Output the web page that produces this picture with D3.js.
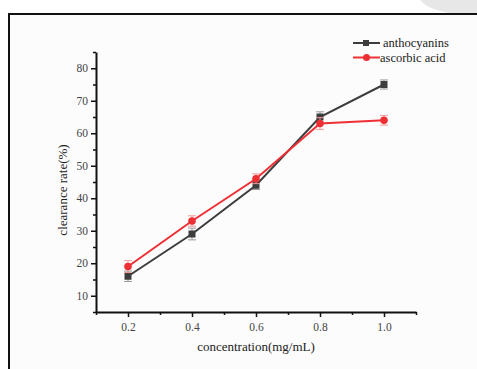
<!DOCTYPE html>
<html>
<head>
<meta charset="utf-8">
<script src="https://cdn.jsdelivr.net/npm/d3@7"></script>
<style>
  body { margin: 0; background: #fff; }
  svg { display: block; }
</style>
</head>
<body>
<svg id="chart"></svg>
<script>
const concentrations = [0.2, 0.4, 0.6, 0.8, 1.0];
const anthocyanins = [16, 29, 44, 65, 75];
const anthocyaninsErr = [1.6, 1.8, 1.3, 1.6, 1.4];
const ascorbic = [19, 33, 46, 63, 64];
const ascorbicErr = [1.8, 1.6, 1.5, 1.8, 1.5];
const xTicks = [0.2, 0.4, 0.6, 0.8, 1.0];
const yTicks = [10, 20, 30, 40, 50, 60, 70, 80];

const width = 477, height = 369;
const margin = {top: 52, right: 61, bottom: 57, left: 96};
const innerW = width - margin.left - margin.right;
const innerH = height - margin.top - margin.bottom;
const font = '"Liberation Serif", "Times New Roman", serif';

const svg = d3.select('#chart').attr('width', width).attr('height', height);

// page background + frame
svg.append('rect').attr('width', width).attr('height', height).attr('fill', '#fcfcfc');
svg.append('rect').attr('width', width).attr('height', 13).attr('fill', '#fff');
svg.append('ellipse').attr('cx', 470).attr('cy', -6).attr('rx', 52).attr('ry', 21).attr('fill', '#e7e7e7');
svg.append('rect').attr('x', 0).attr('y', 14).attr('width', 9).attr('height', height).attr('fill', '#fff');
svg.append('line').attr('x1', 9).attr('x2', width).attr('y1', 14).attr('y2', 14)
    .attr('stroke', '#111').attr('stroke-width', 2);
svg.append('line').attr('x1', 9).attr('x2', 9).attr('y1', 13).attr('y2', height)
    .attr('stroke', '#111').attr('stroke-width', 2);

const chart = svg.append('g').attr('transform', `translate(${margin.left}, ${margin.top})`);

const xscale = d3.scaleLinear().domain([0.1, 1.1]).range([0, innerW]);
const yscale = d3.scaleLinear().domain([5, 85]).range([innerH, 0]);

// minor ticks
const xMinor = d3.range(0.1, 1.101, 0.1).filter(v => !xTicks.some(t => Math.abs(t - v) < 1e-6));
const yMinor = d3.range(5, 86, 5).filter(v => v % 10 !== 0);

chart.append('g')
    .attr('transform', `translate(0, ${innerH})`)
    .call(d3.axisBottom(xscale).tickValues(xMinor).tickSize(3).tickFormat(''))
    .call(g => g.select('.domain').remove())
    .selectAll('line').attr('stroke', '#111').attr('stroke-width', 1.5);

chart.append('g')
    .call(d3.axisLeft(yscale).tickValues(yMinor).tickSize(3).tickFormat(''))
    .call(g => g.select('.domain').remove())
    .selectAll('line').attr('stroke', '#111').attr('stroke-width', 1.5);

const xaxis = chart.append('g')
    .attr('transform', `translate(0, ${innerH})`)
    .call(d3.axisBottom(xscale).tickValues(xTicks).tickSize(5).tickSizeOuter(0).tickPadding(6)
        .tickFormat(d3.format('.1f')));
const yaxis = chart.append('g')
    .call(d3.axisLeft(yscale).tickValues(yTicks).tickSize(5).tickSizeOuter(0).tickPadding(3));

[xaxis, yaxis].forEach(g => {
    g.attr('font-family', font);
    g.select('.domain').attr('stroke', '#111').attr('stroke-width', 2);
    g.selectAll('.tick line').attr('stroke', '#111').attr('stroke-width', 1.5);
    g.selectAll('.tick text').attr('font-family', font).attr('font-size', 11.5).attr('fill', '#444');
});

// axis labels
svg.append('text')
    .attr('x', margin.left + xscale(0.6))
    .attr('y', 351)
    .attr('text-anchor', 'middle')
    .attr('font-family', font).attr('font-size', 13).attr('fill', '#222')
    .text('concentration(mg/mL)');

svg.append('text')
    .attr('transform', 'rotate(-90)')
    .attr('x', -190)
    .attr('y', 67)
    .attr('text-anchor', 'middle')
    .attr('font-family', font).attr('font-size', 13).attr('fill', '#222')
    .text('clearance rate(%)');

// series
const series = [
    {name: 'anthocyanins', values: anthocyanins, err: anthocyaninsErr, color: '#3d3d3d', errColor: '#9a9a9a', shape: 'square'},
    {name: 'ascorbic acid', values: ascorbic, err: ascorbicErr, color: '#ee3035', errColor: '#f29a9c', shape: 'circle'}
];

const line = d3.line().x(d => xscale(d.x)).y(d => yscale(d.y));

series.forEach(s => {
    const pts = concentrations.map((x, i) => ({x, y: s.values[i], e: s.err[i]}));
    const g = chart.append('g');

    // error bars
    const eb = g.selectAll('.err').data(pts).join('g').attr('class', 'err')
        .attr('stroke', s.errColor).attr('stroke-width', 1);
    eb.append('line')
        .attr('x1', d => xscale(d.x)).attr('x2', d => xscale(d.x))
        .attr('y1', d => yscale(d.y - d.e)).attr('y2', d => yscale(d.y + d.e));
    eb.append('line')
        .attr('x1', d => xscale(d.x) - 4).attr('x2', d => xscale(d.x) + 4)
        .attr('y1', d => yscale(d.y + d.e)).attr('y2', d => yscale(d.y + d.e));
    eb.append('line')
        .attr('x1', d => xscale(d.x) - 4).attr('x2', d => xscale(d.x) + 4)
        .attr('y1', d => yscale(d.y - d.e)).attr('y2', d => yscale(d.y - d.e));

    g.append('path').datum(pts)
        .attr('d', line).attr('fill', 'none')
        .attr('stroke', s.color).attr('stroke-width', 2);

    if (s.shape === 'square') {
        g.selectAll('.mk').data(pts).join('rect').attr('class', 'mk')
            .attr('x', d => xscale(d.x) - 3.5).attr('y', d => yscale(d.y) - 3.5)
            .attr('width', 7).attr('height', 7).attr('fill', s.color);
    } else {
        g.selectAll('.mk').data(pts).join('circle').attr('class', 'mk')
            .attr('cx', d => xscale(d.x)).attr('cy', d => yscale(d.y))
            .attr('r', 3.8).attr('fill', s.color);
    }
});

// legend
const legend = svg.append('g');
series.forEach((s, i) => {
    const y = 43 + i * 14.5;
    const row = legend.append('g');
    row.append('line').attr('x1', 353).attr('x2', 380).attr('y1', y).attr('y2', y)
        .attr('stroke', s.color).attr('stroke-width', 2);
    if (s.shape === 'square') {
        row.append('rect').attr('x', 363).attr('y', y - 3).attr('width', 6).attr('height', 6).attr('fill', s.color);
    } else {
        row.append('circle').attr('cx', 366.5).attr('cy', y).attr('r', 3.5).attr('fill', s.color);
    }
    row.append('text').attr('x', i === 0 ? 383 : 380).attr('y', y + 4)
        .attr('font-family', font).attr('font-size', 12.5).attr('fill', '#222')
        .text(s.name);
});
</script>
</body>
</html>
